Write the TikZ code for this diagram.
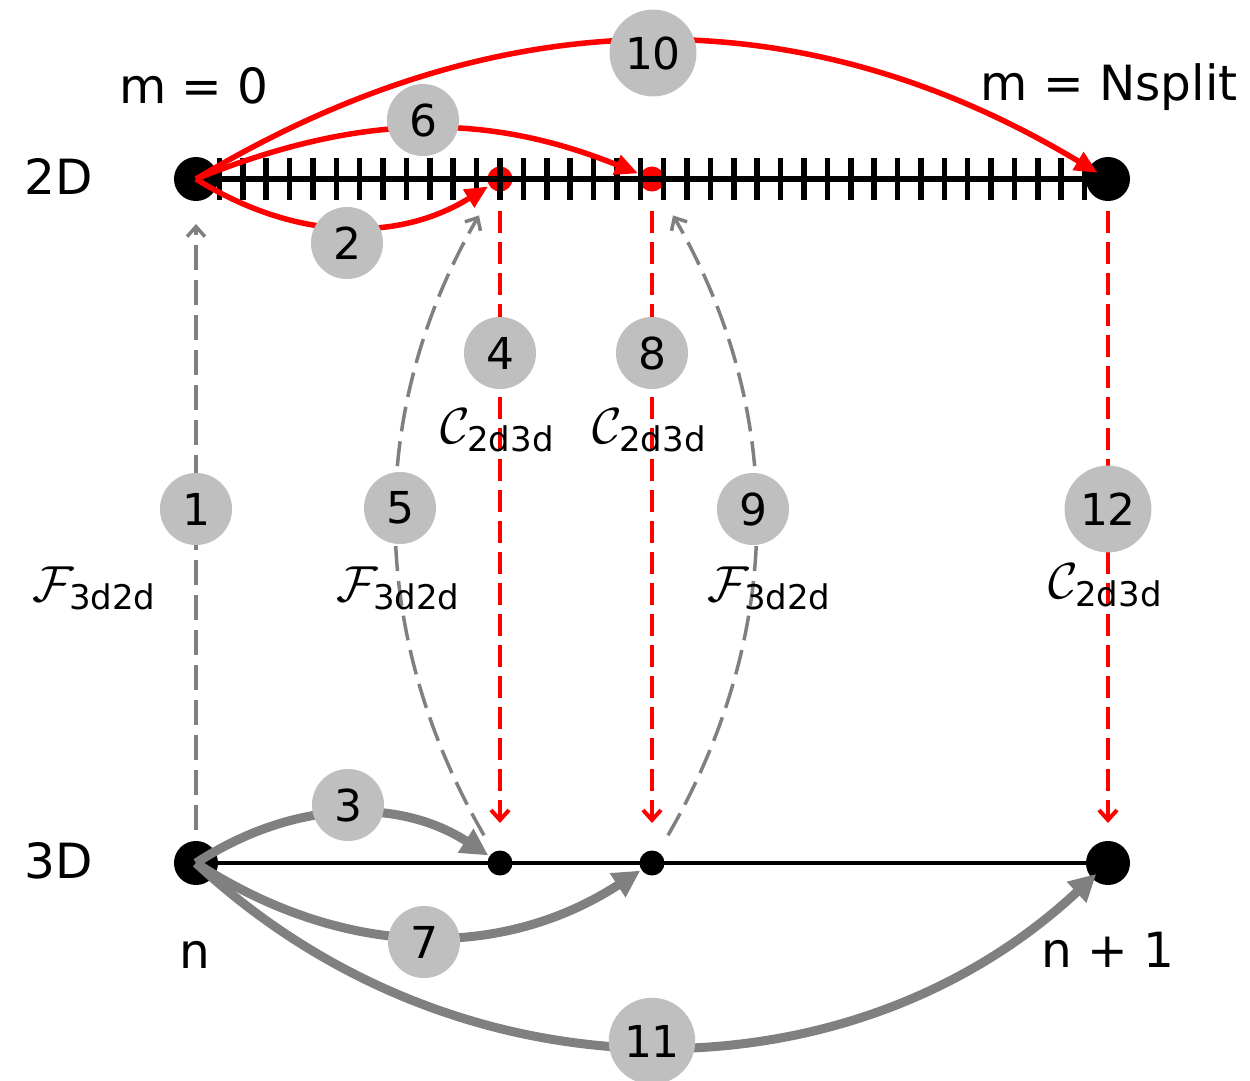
\documentclass[tikz,border=0pt]{standalone}
\usepackage{amsmath}
\usepackage{fontspec}
\setmainfont{DejaVu Sans}
\usetikzlibrary{arrows.meta}

\begin{document}
\begin{tikzpicture}[x=0.01cm, y=-0.01cm, line join=round,
  lbl/.style={font=\fontsize{13.8}{16}\selectfont, inner sep=0pt, anchor=base},
  num/.style={circle, fill=gray!50, inner sep=0.08cm, minimum size=0.72cm, font=\fontsize{12.5}{15}\selectfont},
  bigdot/.style={circle, fill=black, inner sep=0pt, minimum size=0.44cm},
  smalldot/.style={circle, fill=black, inner sep=0pt, minimum size=0.25cm},
  redsolid/.style={red, line width=0.055cm, -{Triangle[length=0.23cm,width=0.2cm]}},
  graysolid/.style={gray, line width=0.09cm, -{Triangle[length=0.27cm,width=0.27cm]}},
  reddash/.style={red, line width=0.04cm, dash pattern=on 0.22cm off 0.09cm, -{Straight Barb[length=0.1cm,width=0.18cm]}},
  graydash/.style={gray, line width=0.035cm, dash pattern=on 0.25cm off 0.1cm, -{Straight Barb[length=0.1cm,width=0.18cm]}}]
  \useasboundingbox (0,0) rectangle (1250,1081);

  % 2D level: sub-steps m
  \node[smalldot, fill=red] (topA) at (500,179) {};
  \node[smalldot, fill=red] (topB) at (652,179) {};
  \draw[line width=0.055cm] (196,179) -- (1108,179);
  \foreach \k in {0,...,39}
    \draw[line width=0.055cm] ({196+\k*23.385},158) -- ({196+\k*23.385},200);
  \node[bigdot] (top0) at (196,179) {};
  \node[bigdot] (topN) at (1108,179) {};

  % 3D level: time steps n
  \draw[line width=0.04cm] (196,863) -- (1108,863);
  \node[bigdot] (bot0) at (196,863) {};
  \node[bigdot] (bot1) at (1108,863) {};
  \node[smalldot] (botA) at (500,863) {};
  \node[smalldot] (botB) at (652,863) {};

  % level names
  \node[lbl] (l2d) at (59,194) {2D};
  \node[lbl] (l3d) at (59,878) {3D};
  \node[lbl] (lm0) at (194,103) {m = 0};
  \node[lbl] (lmN) at (1109,100) {m = Nsplit};
  \node[lbl] (ln) at (195,968) {n};
  \node[lbl] (ln1) at (1108,967) {n + 1};

  % 2D sub-steps
  \draw[redsolid, shorten >=0.14cm] (top0.center) to[bend right=32] (topA.center);
  \draw[redsolid, shorten >=0.15cm] (top0.center) to[bend left=22] (topB.center);
  \draw[redsolid, shorten >=0.12cm] (top0.center) to[bend left=31] (topN.center);

  % 3D steps
  \draw[graysolid, shorten >=0.14cm] (bot0.center) to[bend left=33] (botA.center);
  \draw[graysolid, shorten >=0.14cm] (bot0.center) to[bend right=33] (botB.center);
  \draw[graysolid, shorten >=0.16cm] (bot0.center) to[bend right=43] (bot1.center);

  % forcing 3D -> 2D
  \draw[graydash, shorten <=0.33cm, shorten >=0.45cm] (bot0.center) -- (top0.center);
  \draw[graydash, shorten <=0.32cm, shorten >=0.42cm] (botA.center) to[bend left=30] (topA.center);
  \draw[graydash, shorten <=0.32cm, shorten >=0.42cm] (botB.center) to[bend right=30] (topB.center);

  % coupling 2D -> 3D
  \draw[reddash, shorten <=0.32cm, shorten >=0.40cm] (topA.center) -- (botA.center);
  \draw[reddash, shorten <=0.32cm, shorten >=0.40cm] (topB.center) -- (botB.center);
  \draw[reddash, shorten <=0.32cm, shorten >=0.40cm] (topN.center) -- (bot1.center);

  % operator labels
  \node[lbl] (f1) at (95,601) {$\mathcal{F}_{\text{3d2d}}$};
  \node[lbl] (f5) at (399,601) {$\mathcal{F}_{\text{3d2d}}$};
  \node[lbl] (f9) at (770,601) {$\mathcal{F}_{\text{3d2d}}$};
  \node[lbl] (c4) at (498,443) {$\mathcal{C}_{\text{2d3d}}$};
  \node[lbl] (c8) at (650,443) {$\mathcal{C}_{\text{2d3d}}$};
  \node[lbl] (c12) at (1106,598) {$\mathcal{C}_{\text{2d3d}}$};

  % order of the steps
  \node[num] (s1) at (196,509) {1};
  \node[num] (s2) at (347,243) {2};
  \node[num] (s3) at (348,805) {3};
  \node[num] (s4) at (500,353) {4};
  \node[num] (s5) at (400,508) {5};
  \node[num] (s6) at (423,120) {6};
  \node[num] (s7) at (424,942) {7};
  \node[num] (s8) at (652,353) {8};
  \node[num] (s9) at (753,509) {9};
  \node[num] (s10) at (653,53) {10};
  \node[num] (s11) at (652,1041) {11};
  \node[num] (s12) at (1108,509) {12};
\end{tikzpicture}
\end{document}
